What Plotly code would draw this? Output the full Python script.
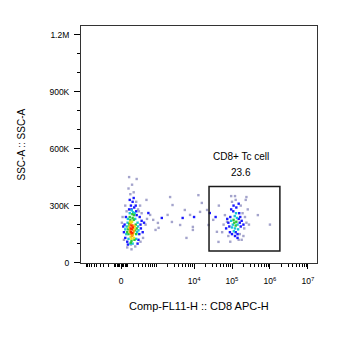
import numpy as np
import plotly.graph_objects as go

# ---------------- data ----------------
# Comp-FL11-H (CD8 APC-H) raw values, SSC-A values in thousands
# CD8- population (left), raw FL11 units
red_fl11 = [165, 150, 185, 160, 175, 145]
red_ssc_k = [175, 160, 185, 195, 155, 180]

orange_fl11 = [135, 200, 170, 140, 190, 155]
orange_ssc_k = [170, 165, 140, 200, 195, 150]

yellow_fl11 = [130, 210, 155, 185, 145, 120, 220, 170, 195, 135, 205, 160]
yellow_ssc_k = [160, 175, 210, 145, 135, 185, 190, 215, 155, 215, 130, 125]

green_fl11 = [110, 230, 140, 200, 100, 250, 160, 120, 215, 180, 90, 240, 130, 205, 150, 260, 175, 115]
green_ssc_k = [150, 170, 225, 225, 175, 150, 115, 205, 120, 235, 160, 200, 240, 250, 105, 180, 255, 190]

cyan_fl11 = [80, 270, 100, 230, 130, 190, 75, 280, 110, 250, 165, 95, 220, 140, 290, 60, 300, 180]
cyan_ssc_k = [190, 160, 230, 230, 260, 265, 150, 210, 125, 125, 275, 210, 260, 100, 190, 175, 170, 100]

blue_fl11 = [50, 320, 70, 260, 120, 210, 40, 350, 90, 300, 150, 240, 60, 330, 180, 100, 280, 130, 380, 30,
             360, 200, 410, 450, 250, 160]
blue_ssc_k = [200, 150, 240, 250, 280, 290, 160, 200, 110, 120, 300, 300, 130, 240, 320, 95, 100, 330, 220, 190,
              180, 340, 160, 210, 270, 280]

gray_fl11 = [20, 310, 80, 250, 140, 200, 110, 60, 340, 170, 90, 230, 150, 290, 380, 420, 500, 550, 40, 10,
             350, 120, 260, 160]
gray_ssc_k = [240, 270, 270, 320, 360, 370, 390, 300, 300, 410, 80, 85, 95, 280, 260, 130, 200, 230, 120, 210,
              110, 450, 440, 70]

# CD8+ population (right), FL11 in thousands
pos_green_fl11_k = [115, 125, 110, 130]
pos_green_ssc_k = [210, 195, 225, 215]

pos_cyan_fl11_k = [120, 105, 135, 118, 100, 140, 128, 95, 145, 112]
pos_cyan_ssc_k = [180, 200, 235, 245, 185, 200, 260, 220, 175, 165]

pos_blue_fl11_k = [90, 160, 85, 155, 100, 140, 170, 80, 130, 95, 165, 120, 75, 180, 110, 150, 88, 200, 70, 140,
                   150, 108, 125]
pos_blue_ssc_k = [240, 210, 190, 260, 150, 150, 190, 210, 290, 280, 240, 140, 230, 220, 300, 310, 160, 200, 180, 130,
                  230, 270, 160]

pos_gray_fl11_k = [65, 190, 100, 170, 210, 60, 125, 220, 80, 160, 240, 90, 150, 55, 260, 230, 120, 180, 95, 200,
                   480, 1000, 45, 280, 32, 74, 240]
pos_gray_ssc_k = [250, 260, 320, 300, 180, 200, 330, 240, 140, 150, 210, 110, 120, 160, 280, 330, 350, 120, 350, 140,
                  250, 200, 300, 200, 225, 215, 345]

# sparse events between the populations, raw FL11
mid_blue_fl11 = [600, 1400, 5000, 10000, 26000, 37000]
mid_blue_ssc_k = [261, 235, 235, 240, 261, 240]

mid_gray_fl11 = [530, 820, 1100, 1150, 950, 2330, 2700, 2000, 2600, 4290, 5700, 7850, 9300, 13000, 16000,
                 14400, 22000, 24000, 40000, 44000, 6300, 9300, 675]
mid_gray_ssc_k = [330, 225, 209, 183, 172, 345, 303, 251, 214, 198, 277, 251, 188, 355, 314, 267, 277, 198, 162,
                  109, 130, 172, 251]

# gate
gate_name = "CD8+ Tc cell"
gate_freq = "23.6"
gate_fl11 = [24800, 1830000]
gate_ssc = [61600, 400000]

# axes
x_tick_vals = [0, 1e4, 1e5, 1e6, 1e7]
x_tick_text = ["0", "10<sup>4</sup>", "10<sup>5</sup>", "10<sup>6</sup>", "10<sup>7</sup>"]
x_range_raw = [-1366, 1.74e7]
y_tick_vals = [0, 300000, 600000, 900000, 1200000]
y_tick_text = ["0", "300K", "600K", "900K", "1.2M"]
y_range = [-2000, 1245000]
x_title = "Comp-FL11-H :: CD8 APC-H"
y_title = "SSC-A :: SSC-A"

# ---------------- figure ----------------
COF = 240.0


def biex(v):
    return np.arcsinh(np.asarray(v, dtype=float) / COF)


def k(v):
    return np.asarray(v, dtype=float) * 1000.0


tiers = [
    ("#a4a4cc", list(gray_fl11) + list(k(pos_gray_fl11_k)) + list(mid_gray_fl11),
     list(gray_ssc_k) + list(pos_gray_ssc_k) + list(mid_gray_ssc_k)),
    ("#1a1aff", list(blue_fl11) + list(k(pos_blue_fl11_k)) + list(mid_blue_fl11),
     list(blue_ssc_k) + list(pos_blue_ssc_k) + list(mid_blue_ssc_k)),
    ("#19c4d8", list(cyan_fl11) + list(k(pos_cyan_fl11_k)), list(cyan_ssc_k) + list(pos_cyan_ssc_k)),
    ("#2ec83a", list(green_fl11) + list(k(pos_green_fl11_k)), list(green_ssc_k) + list(pos_green_ssc_k)),
    ("#e8e41c", list(yellow_fl11), list(yellow_ssc_k)),
    ("#ff9a10", list(orange_fl11), list(orange_ssc_k)),
    ("#ff2a00", list(red_fl11), list(red_ssc_k)),
]

fig = go.Figure()
for color, xs, ys in tiers:
    fig.add_trace(go.Scatter(
        x=biex(xs), y=k(ys), mode="markers",
        marker=dict(symbol="square", size=2.4, color=color, line=dict(width=0)),
        hoverinfo="skip", showlegend=False,
    ))

# minor tick positions for the biexponential axis
minor = []
for d in [100, 1000, 10000, 100000, 1000000]:
    for m in range(1, 10):
        minor.append(m * d)
minor += [-m * 20 for m in range(1, 5)] + [m * 20 for m in range(1, 5)]
minor += [-m * 100 for m in range(1, 11)]
minor = [v for v in minor if v not in x_tick_vals]

xr = list(biex(x_range_raw))
font = "Liberation Sans, Arial, sans-serif"

fig.update_layout(
    width=348, height=348,
    margin=dict(l=81, r=31, t=26, b=85),
    paper_bgcolor="white", plot_bgcolor="white",
    font=dict(family=font, color="black"),
    xaxis=dict(range=xr, tickvals=list(biex(x_tick_vals)), ticktext=x_tick_text,
               ticks="outside", ticklen=5, tickwidth=1, tickcolor="black",
               showline=True, linecolor="#333", linewidth=1, mirror=True,
               showgrid=False, zeroline=False, tickfont=dict(size=8.5),
               ticklabelstandoff=5),
    xaxis2=dict(range=xr, overlaying="x", anchor="y", side="bottom",
                tickvals=list(biex(minor)), ticks="outside", ticklen=3, tickwidth=1,
                tickcolor="black", showticklabels=False, showgrid=False,
                zeroline=False, showline=False),
    yaxis=dict(range=y_range, tickvals=y_tick_vals, ticktext=y_tick_text,
               ticks="outside", ticklen=6, tickwidth=1, tickcolor="black",
               minor=dict(dtick=100000, ticks="outside", ticklen=3, tickcolor="black"),
               showline=True, linecolor="#333", linewidth=1, mirror=True,
               showgrid=False, zeroline=False, tickfont=dict(size=8.5),
               ticklabelstandoff=3),
)
# dummy trace to activate xaxis2
fig.add_trace(go.Scatter(x=[None], y=[None], xaxis="x2", showlegend=False, hoverinfo="skip"))

gx = list(biex(gate_fl11))
fig.add_shape(type="rect", xref="x", yref="y", x0=gx[0], x1=gx[1], y0=gate_ssc[0], y1=gate_ssc[1],
              line=dict(color="#1a1a1a", width=1.5))
cx = (gx[0] + gx[1]) / 2 - 0.2
fig.add_annotation(x=cx, y=gate_ssc[1], xref="x", yref="y", text=gate_name, showarrow=False,
                   yanchor="middle", yshift=30, font=dict(size=10, family=font, color="black"))
fig.add_annotation(x=cx, y=gate_ssc[1], xref="x", yref="y", text=gate_freq, showarrow=False,
                   yanchor="middle", yshift=14, font=dict(size=10, family=font, color="black"))

fig.add_annotation(x=(21 - 81) / 236, y=0.5, xref="paper", yref="paper", text=y_title, textangle=-90,
                   showarrow=False, xanchor="center", yanchor="middle",
                   font=dict(size=10, family=font, color="black"))
fig.add_annotation(x=0.5, y=(263 - 306) / 237, xref="paper", yref="paper", text=x_title,
                   showarrow=False, xanchor="center", yanchor="middle",
                   font=dict(size=11, family=font, color="black"))

fig.write_html("out.html")
